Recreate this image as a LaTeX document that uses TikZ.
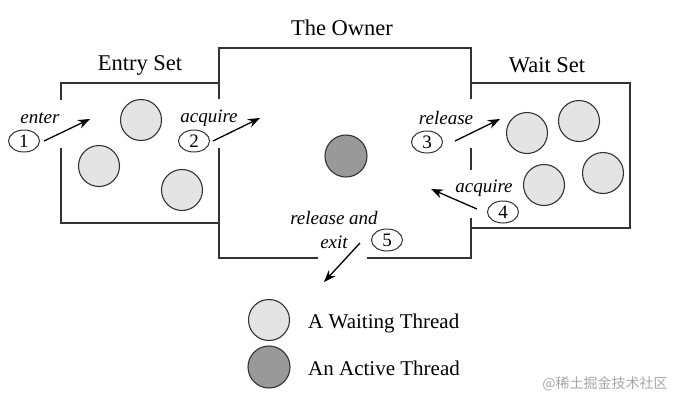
\documentclass[tikz,border=0pt]{standalone}
\usepackage{fontspec}
\setmainfont{Liberation Serif}
\newfontfamily\cjk{Noto Sans CJK SC}
\usetikzlibrary{arrows.meta,shapes.geometric}
\definecolor{lightfill}{HTML}{E4E4E4}
\definecolor{darkfill}{HTML}{999999}
\definecolor{edge}{HTML}{333333}
\tikzset{
  wall/.style={draw=edge,line width=1.7pt},
  waiting/.style={circle,draw=edge,line width=1.1pt,fill=lightfill,minimum size=41pt,inner sep=0pt},
  active/.style={circle,draw=edge,line width=1.1pt,fill=darkfill,minimum size=42pt,inner sep=0pt},
  title/.style={font=\fontsize{22.5}{27}\selectfont,inner sep=0pt},
  legendtext/.style={font=\fontsize{21}{25}\selectfont,inner sep=0pt,anchor=west},
  lbl/.style={font=\fontsize{19}{24}\selectfont\itshape,inner sep=0pt,align=center},
  num/.style={ellipse,draw=edge,line width=1pt,minimum width=31pt,minimum height=22pt,inner sep=0pt,font=\fontsize{19}{22}\selectfont},
  arr/.style={draw=black,line width=1.3pt,-{Stealth[length=12pt,width=9pt]}}
}
\begin{document}
\begin{tikzpicture}[x=1pt,y=-1pt]
\useasboundingbox (0,0) rectangle (682,405);
% walls
\draw[wall] (219,83) -- (61,83) -- (61,100);
\draw[wall] (61,148) -- (61,223) -- (219,223);
\draw[wall] (219,99) -- (219,48) -- (471,48) -- (471,99);
\draw[wall] (219,148) -- (219,258) -- (318,258);
\draw[wall] (367,258) -- (471,258) -- (471,218);
\draw[wall] (471,148) -- (471,170);
\draw[wall] (471,83) -- (630,83) -- (630,228) -- (471,228);
% titles
\node[title] (tentry) at (140,65) {Entry Set};
\node[title] (towner) at (342,28) {The Owner};
\node[title] (twait) at (547,65) {Wait Set};
% threads
\node[waiting] (e1) at (141,120) {};
\node[waiting] (e2) at (99,166) {};
\node[waiting] (e3) at (182,190) {};
\node[active] (o1) at (346,156) {};
\node[waiting] (w1) at (527,133) {};
\node[waiting] (w2) at (579,121) {};
\node[waiting] (w3) at (544,185) {};
\node[waiting] (w4) at (603,173) {};
% labels
\node[lbl] (lenter) at (40,118) {enter};
\node[num] (n1) at (24,141) {1};
\coordinate (a1s) at (44,141);
\coordinate (a1e) at (90,119);
\draw[arr] (a1s) -- (a1e);
\node[lbl] (lacq) at (209,118) {acquire};
\node[num] (n2) at (194,141) {2};
\coordinate (a2s) at (213,141);
\coordinate (a2e) at (260,118);
\draw[arr] (a2s) -- (a2e);
\node[lbl] (lrel) at (446,118) {release};
\node[num] (n3) at (427,142) {3};
\coordinate (a3s) at (455,141);
\coordinate (a3e) at (500,119);
\draw[arr] (a3s) -- (a3e);
\node[lbl] (lacq2) at (484,188) {acquire};
\node[num] (n4) at (503,212) {4};
\coordinate (a4s) at (477,209);
\coordinate (a4e) at (431,189);
\draw[arr] (a4s) -- (a4e);
\node[lbl] (lexit) at (334,230) {release and\\exit};
\node[num] (n5) at (387,240) {5};
\coordinate (a5s) at (360,243);
\coordinate (a5e) at (324,282);
\draw[arr] (a5s) -- (a5e);
% legend
\node[waiting] (lw) at (269,320) {};
\node[legendtext] (lwt) at (308,323) {A Waiting Thread};
\node[active] (la) at (269,367) {};
\node[legendtext] (lat) at (308,368) {An Active Thread};
% watermark
\node[font=\cjk\fontsize{14}{16}\selectfont,text=gray!70,inner sep=0pt] (wm) at (605,384) {@稀土掘金技术社区};
\end{tikzpicture}
\end{document}
